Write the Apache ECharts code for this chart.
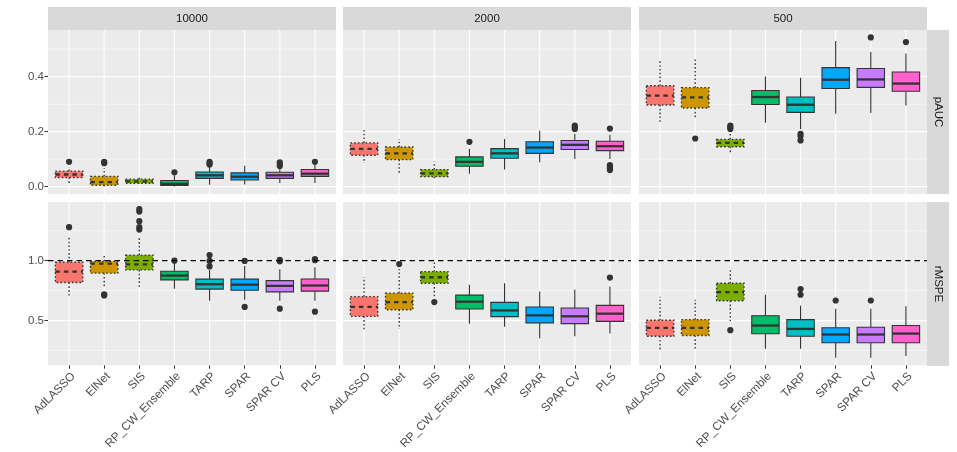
<!DOCTYPE html>
<html>
<head>
<meta charset="utf-8">
<script src="https://cdn.jsdelivr.net/npm/echarts@6/dist/echarts.min.js"></script>
<style>
html,body{margin:0;padding:0;background:#fff;}
#chart{width:957px;height:452px;}
</style>
</head>
<body>
<div id="chart"></div>
<script>
// ---------- DATA ----------
const methods = ['AdLASSO', 'ElNet', 'SIS', 'RP_CW_Ensemble', 'TARP', 'SPAR', 'SPAR CV', 'PLS'];
const sizes = ['10000', '2000', '500'];
const metrics = ['pAUC', 'rMSPE'];
const colors = ['#F8766D', '#CD9600', '#7CAE00', '#00BE67', '#00BFC4', '#00A9FF', '#C77CFF', '#FF61CC'];
const dashedMethods = ['AdLASSO', 'ElNet', 'SIS'];

// box statistics per method: [lower whisker, Q1, median, Q3, upper whisker]
const pAUC_10000 = [
  [0.013, 0.033, 0.044, 0.056, 0.070],
  [0.000, 0.005, 0.016, 0.037, 0.068],
  [0.010, 0.012, 0.019, 0.027, 0.032],
  [0.000, 0.004, 0.010, 0.022, 0.040],
  [0.007, 0.030, 0.041, 0.053, 0.072],
  [0.008, 0.024, 0.036, 0.050, 0.076],
  [0.013, 0.030, 0.041, 0.052, 0.068],
  [0.013, 0.037, 0.047, 0.062, 0.080]
];
const pAUC_10000_out = [[0.090], [0.085, 0.090], [], [0.052], [0.080, 0.085, 0.090], [], [0.075, 0.082, 0.088], [0.090]];

const pAUC_2000 = [
  [0.086, 0.114, 0.137, 0.159, 0.210],
  [0.050, 0.098, 0.121, 0.144, 0.173],
  [0.028, 0.036, 0.048, 0.062, 0.090],
  [0.047, 0.074, 0.090, 0.108, 0.138],
  [0.062, 0.103, 0.121, 0.138, 0.173],
  [0.089, 0.121, 0.142, 0.163, 0.203],
  [0.100, 0.135, 0.152, 0.168, 0.192],
  [0.100, 0.131, 0.147, 0.165, 0.189]
];
const pAUC_2000_out = [[], [], [], [0.163], [], [], [0.210, 0.215, 0.222], [0.211, 0.078, 0.072, 0.066, 0.060]];

const pAUC_500 = [
  [0.228, 0.297, 0.331, 0.367, 0.458],
  [0.244, 0.286, 0.325, 0.360, 0.464],
  [0.122, 0.145, 0.159, 0.172, 0.195],
  [0.232, 0.299, 0.326, 0.350, 0.401],
  [0.210, 0.270, 0.298, 0.326, 0.396],
  [0.265, 0.357, 0.389, 0.433, 0.530],
  [0.268, 0.361, 0.390, 0.430, 0.490],
  [0.295, 0.347, 0.375, 0.417, 0.484]
];
const pAUC_500_out = [[], [0.175], [0.210, 0.216, 0.222], [], [0.192, 0.184, 0.168], [], [0.543], [0.526]];

const rMSPE_10000 = [
  [0.700, 0.818, 0.909, 0.987, 1.200],
  [0.785, 0.896, 0.975, 0.995, 1.047],
  [0.771, 0.923, 0.970, 1.047, 1.200],
  [0.765, 0.840, 0.876, 0.912, 0.978],
  [0.666, 0.763, 0.804, 0.846, 0.923],
  [0.674, 0.753, 0.800, 0.846, 0.956],
  [0.666, 0.740, 0.790, 0.834, 0.929],
  [0.666, 0.746, 0.793, 0.848, 0.945]
];
const rMSPE_10000_out = [[1.280], [0.710, 0.720], [1.260, 1.280, 1.330, 1.410, 1.430], [1.000], [0.952, 0.998, 1.047], [0.998, 0.614], [0.995, 1.008, 0.600], [1.014, 1.004, 0.575]];

const rMSPE_2000 = [
  [0.425, 0.536, 0.614, 0.700, 0.862],
  [0.431, 0.591, 0.655, 0.730, 0.930],
  [0.700, 0.812, 0.862, 0.909, 1.005],
  [0.473, 0.597, 0.658, 0.713, 0.800],
  [0.448, 0.533, 0.585, 0.652, 0.812],
  [0.353, 0.481, 0.544, 0.614, 0.743],
  [0.370, 0.475, 0.536, 0.605, 0.757],
  [0.392, 0.494, 0.558, 0.627, 0.785]
];
const rMSPE_2000_out = [[], [0.972], [0.655], [], [], [], [], [0.859]];

const rMSPE_500 = [
  [0.260, 0.370, 0.440, 0.503, 0.700],
  [0.265, 0.376, 0.440, 0.508, 0.674],
  [0.480, 0.666, 0.738, 0.812, 0.929],
  [0.265, 0.390, 0.459, 0.541, 0.716],
  [0.265, 0.370, 0.431, 0.508, 0.624],
  [0.190, 0.315, 0.384, 0.440, 0.600],
  [0.190, 0.315, 0.384, 0.445, 0.600],
  [0.204, 0.315, 0.392, 0.459, 0.619]
];
const rMSPE_500_out = [[], [], [0.420], [], [0.716, 0.763], [0.668], [0.668], []];

// y-axis ticks
const pAUC_ticks = [0, 0.2, 0.4];
const pAUC_minor = [0.1, 0.3, 0.5];
const pAUC_range = [-0.027, 0.570];
const rMSPE_ticks = [0.5, 1.0];
const rMSPE_minor = [0.25, 0.75, 1.25];
const rMSPE_range = [0.128, 1.490];
const refLine = 1.0;

// ---------- LAYOUT ----------
const panelLefts = [48, 343, 639];
const panelW = 288;
const panelTops = [30, 202];
const panelH = 164;
const BOX_W = 0.78;
const FONT = 'Liberation Sans, Arial, Helvetica, sans-serif';

const boxes = [[pAUC_10000, pAUC_2000, pAUC_500], [rMSPE_10000, rMSPE_2000, rMSPE_500]];
const outs = [[pAUC_10000_out, pAUC_2000_out, pAUC_500_out], [rMSPE_10000_out, rMSPE_2000_out, rMSPE_500_out]];
const ticks = [pAUC_ticks, rMSPE_ticks];
const minors = [pAUC_minor, rMSPE_minor];
const ranges = [pAUC_range, rMSPE_range];

const grids = [], xAxes = [], yAxes = [], series = [], graphics = [];

function boxRender(params, api) {
  const x = api.value(0);
  const idx = Math.round(x) - 1;
  const dashed = dashedMethods.indexOf(methods[idx]) >= 0;
  const half = api.size([BOX_W, 0])[0] / 2;
  const xc = api.coord([x, api.value(3)])[0];
  const yLo = api.coord([x, api.value(1)])[1];
  const yQ1 = api.coord([x, api.value(2)])[1];
  const yMed = api.coord([x, api.value(3)])[1];
  const yQ3 = api.coord([x, api.value(4)])[1];
  const yHi = api.coord([x, api.value(5)])[1];
  const dot = dashed ? [1.6, 2.2] : null;
  const lw = dashed ? 1.35 : 1.1;
  const ls = { stroke: '#333333', lineWidth: lw, lineDash: dot, fill: null };
  return {
    type: 'group',
    children: [
      { type: 'line', shape: { x1: xc, y1: yQ3, x2: xc, y2: yHi }, style: ls },
      { type: 'line', shape: { x1: xc, y1: yQ1, x2: xc, y2: yLo }, style: ls },
      { type: 'rect', shape: { x: xc - half, y: yQ3, width: 2 * half, height: yQ1 - yQ3 },
        style: { fill: colors[idx], stroke: '#333333', lineWidth: lw, lineDash: dot } },
      { type: 'line', shape: { x1: xc - half, y1: yMed, x2: xc + half, y2: yMed },
        style: { stroke: '#333333', lineWidth: 2.3, lineDash: dashed ? [4.5, 4] : null, fill: null } }
    ]
  };
}

function gridLineRender(params, api) {
  const kind = api.value(0);
  const v = api.value(1);
  const cs = params.coordSys;
  let p1, p2, w;
  if (kind === 2) {
    const xx = api.coord([v, 0.5])[0];
    p1 = [xx, cs.y]; p2 = [xx, cs.y + cs.height];
    w = 1.1;
  } else {
    const yy = api.coord([1, v])[1];
    p1 = [cs.x, yy]; p2 = [cs.x + cs.width, yy];
    w = kind === 1 ? 1.1 : 0.55;
  }
  return { type: 'line', shape: { x1: p1[0], y1: p1[1], x2: p2[0], y2: p2[1] },
           style: { stroke: '#FFFFFF', lineWidth: w } };
}

function refLineRender(params, api) {
  const cs = params.coordSys;
  const yy = api.coord([1, api.value(0)])[1];
  return { type: 'line', shape: { x1: cs.x, y1: yy, x2: cs.x + cs.width, y2: yy },
           style: { stroke: '#000000', lineWidth: 1.3, lineDash: [5.5, 4] } };
}

const catX = methods.map((m, i) => i + 1);

for (let r = 0; r < 2; r++) {
  for (let c = 0; c < 3; c++) {
    const g = r * 3 + c;
    grids.push({ left: panelLefts[c], top: panelTops[r], width: panelW, height: panelH,
                 show: true, backgroundColor: '#EBEBEB', borderWidth: 0, containLabel: false });
    xAxes.push({
      type: 'value', gridIndex: g, min: 0.4, max: 8.6,
      axisLine: { show: false },
      splitLine: { show: false },
      axisTick: { show: r === 1, customValues: catX, length: 3.5, lineStyle: { color: '#333333', width: 1 } },
      axisLabel: { show: r === 1, customValues: catX, rotate: 45, margin: 5, verticalAlign: 'top',
                   formatter: v => methods[Math.round(v) - 1] || '',
                   color: '#4D4D4D', fontSize: 11.7, fontFamily: FONT }
    });
    yAxes.push({
      type: 'value', gridIndex: g, min: ranges[r][0], max: ranges[r][1],
      axisLine: { show: false },
      splitLine: { show: false },
      axisTick: { show: c === 0, customValues: ticks[r], length: 3.5, lineStyle: { color: '#333333', width: 1 } },
      axisLabel: { show: c === 0, customValues: ticks[r], margin: 4,
                   formatter: v => v.toFixed(1),
                   color: '#4D4D4D', fontSize: 11.5, fontFamily: FONT }
    });
    // gridlines
    const gl = [];
    minors[r].forEach(v => gl.push([0, v]));
    ticks[r].forEach(v => gl.push([1, v]));
    catX.forEach(v => gl.push([2, v]));
    series.push({ type: 'custom', xAxisIndex: g, yAxisIndex: g, z: 1, silent: true,
                  renderItem: gridLineRender, data: gl, encode: { x: 1, y: 1 }, clip: false });
    // boxes
    const bd = boxes[r][c].map((s, i) => [i + 1].concat(s));
    series.push({ type: 'custom', xAxisIndex: g, yAxisIndex: g, z: 3, silent: true,
                  renderItem: boxRender, data: bd, encode: { x: 0, y: [1, 2, 3, 4, 5] } });
    // outliers
    const od = [];
    outs[r][c].forEach((arr, i) => arr.forEach(v => od.push([i + 1, v])));
    series.push({ type: 'scatter', xAxisIndex: g, yAxisIndex: g, z: 4, silent: true,
                  symbolSize: 6.2, itemStyle: { color: '#333333', opacity: 1 }, data: od });
    if (r === 1) {
      series.push({ type: 'custom', xAxisIndex: g, yAxisIndex: g, z: 5, silent: true,
                    renderItem: refLineRender, data: [[refLine]], encode: { y: 0 } });
    }
  }
}

// strips
for (let c = 0; c < 3; c++) {
  graphics.push({ type: 'rect', shape: { x: panelLefts[c], y: 7, width: panelW, height: 23 },
                  style: { fill: '#D9D9D9' }, silent: true });
  graphics.push({ type: 'text', x: panelLefts[c] + panelW / 2, y: 18.5,
                  style: { text: sizes[c], fill: '#1A1A1A', font: '11.5px ' + FONT,
                           textAlign: 'center', textVerticalAlign: 'middle' }, silent: true });
}
for (let r = 0; r < 2; r++) {
  graphics.push({ type: 'rect', shape: { x: panelLefts[2] + panelW, y: panelTops[r], width: 22, height: panelH },
                  style: { fill: '#D9D9D9' }, silent: true });
  graphics.push({ type: 'text', x: panelLefts[2] + panelW + 11, y: panelTops[r] + panelH / 2,
                  rotation: -Math.PI / 2,
                  style: { text: metrics[r], fill: '#1A1A1A', font: '11.5px ' + FONT,
                           textAlign: 'center', textVerticalAlign: 'middle' }, silent: true });
}

const chart = echarts.init(document.getElementById('chart'), null, { renderer: 'canvas' });
chart.setOption({
  animation: false,
  backgroundColor: '#FFFFFF',
  grid: grids,
  xAxis: xAxes,
  yAxis: yAxes,
  series: series,
  graphic: graphics
});
</script>
</body>
</html>
